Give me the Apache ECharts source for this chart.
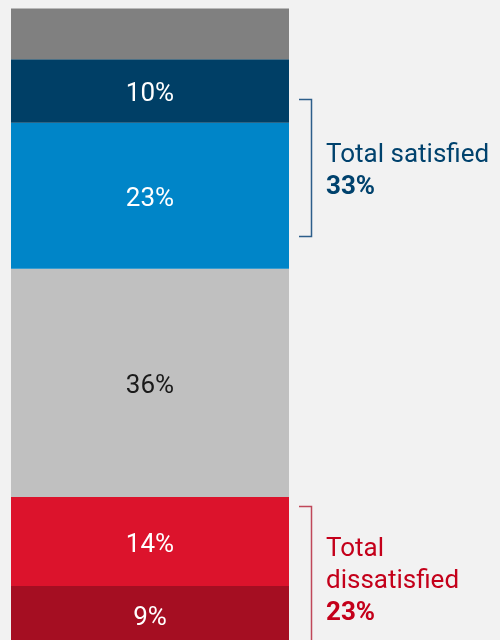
<!DOCTYPE html>
<html><head><meta charset="utf-8">
<script src="https://cdn.jsdelivr.net/npm/echarts@6/dist/echarts.min.js"></script>
<style>html,body{margin:0;padding:0;background:#f2f2f2;overflow:hidden;}#c{width:500px;height:660px;}</style>
</head><body><div id="c"></div>
<script>
// Segments, bottom to top of the stack
var segmentNames = ['Very dissatisfied','Somewhat dissatisfied','Neutral','Somewhat satisfied','Very satisfied','No answer'];
var segmentValues = [9, 14, 36, 23, 10, 8];
var segmentColors = ['#a50e22','#dc132c','#c0c0c0','#0085c8','#003f66','#808080'];
var labelColors = ['#ffffff','#ffffff','#1a1a1a','#ffffff','#ffffff','#ffffff'];
var showLabel = [true, true, true, true, true, false];
var categories = ['All'];
// Annotations
var groupTitles = [['Total satisfied'], ['Total', 'dissatisfied']];
var groupTotals = ['33%', '23%'];
var groupColors = ['#00426d', '#c4001a'];
var bracketColors = ['#2d5e8a', '#c0485a'];
var bracketRanges = [[85.74, 64.14], [21.59, -5]]; // value-space extent of each bracket
var groupCenters = [74.77, 10.18];

var chart = echarts.init(document.getElementById('c'), null, {renderer:'canvas'});
var FONT = 'Roboto';
var series = segmentValues.map(function(v, i){
  return {
    name: segmentNames[i], type: 'bar', stack: 'a', barWidth: '100%',
    data: [v],
    itemStyle: {color: segmentColors[i]},
    label: {show: showLabel[i], position: 'inside', offset: [0, 4], formatter: '{c}%',
      color: labelColors[i], fontFamily: FONT, fontSize: 26, fontWeight: 'normal'},
    emphasis: {disabled: true},
    animation: false
  };
});
chart.setOption({
  backgroundColor: '#f2f2f2',
  animation: false,
  grid: {left: 11, width: 278, top: 8.5, height: 634.5},
  xAxis: {type: 'category', data: categories, show: false},
  yAxis: {type: 'value', min: 0, max: 100, show: false},
  series: series
});

function px(v){ return chart.convertToPixel({gridIndex:0}, [0, v])[1]; }
var gfx = [];
var bx = 311, tickLeft = 299, textX = 326;
var lineH = 31.6, textNudge = 3;
bracketRanges.forEach(function(r, g){
  var y1 = Math.round(px(r[0])) + 0.5, y2 = Math.round(px(r[1])) + 0.5;
  gfx.push({type:'polyline', shape:{points:[[tickLeft,y1],[bx+0.5,y1],[bx+0.5,y2],[tickLeft,y2]]},
    style:{stroke: bracketColors[g], lineWidth: 1.5, fill: null}, silent:true});
});
groupCenters.forEach(function(c, g){
  var mid = px(c) + textNudge;
  var lines = groupTitles[g].concat([groupTotals[g]]);
  var n = lines.length;
  var startY = mid - (n-1)*lineH/2;
  lines.forEach(function(t, k){
    gfx.push({type:'text', x: textX, y: startY + k*lineH, silent:true,
      style:{text: t, fill: groupColors[g], font: (k===n-1?'bold ':'') + '26px ' + FONT,
        textAlign:'left', textVerticalAlign:'middle', verticalAlign:'middle'}});
  });
});
chart.setOption({graphic: gfx});
</script></body></html>
